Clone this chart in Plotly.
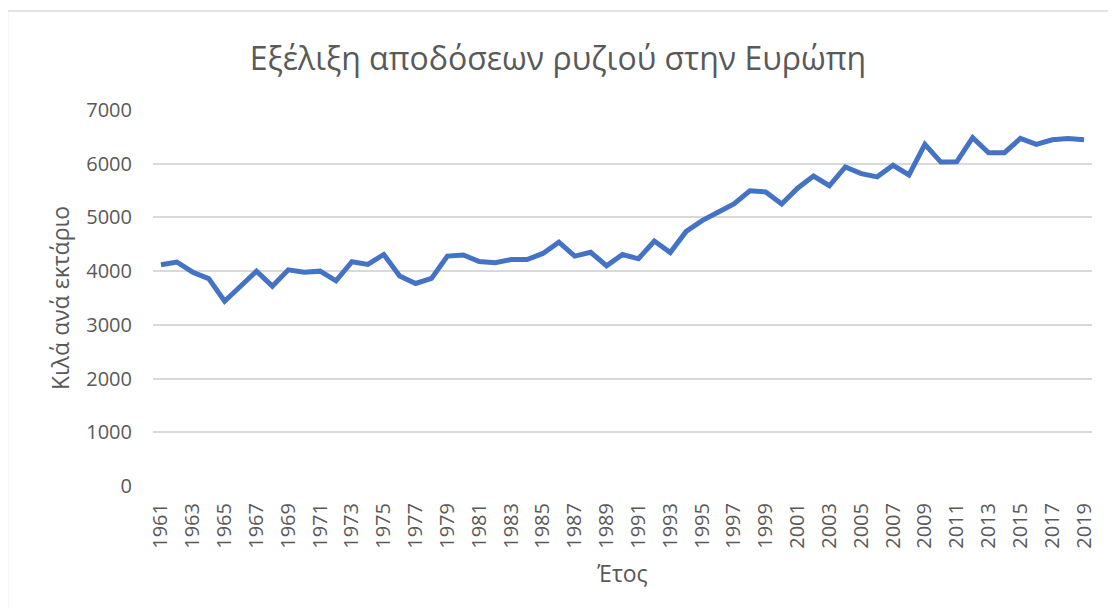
import plotly.graph_objects as go

years = list(range(1961, 2020))
yield_kg_ha = [
    4120, 4170, 3980, 3860, 3440, 3730, 4000, 3720, 4025, 3980,
    4000, 3820, 4175, 4125, 4310, 3910, 3770, 3865, 4280, 4300,
    4180, 4155, 4215, 4215, 4330, 4540, 4280, 4350, 4100, 4310,
    4230, 4560, 4345, 4740, 4940, 5095, 5250, 5495, 5475, 5250,
    5545, 5770, 5590, 5940, 5815, 5755, 5970, 5790, 6360, 6030,
    6035, 6485, 6205, 6205, 6470, 6360, 6445, 6468, 6445,
]
title_text = "Εξέλιξη αποδόσεων ρυζιού στην Ευρώπη"
x_title = "Έτος"
y_title = "Κιλά ανά εκτάριο"
y_ticks = [0, 1000, 2000, 3000, 4000, 5000, 6000, 7000]

x_cat = [str(y) for y in years]
tick_years = x_cat[::2]

grey = "#595959"
font_family = "Open Sans, Liberation Sans, sans-serif"

fig = go.Figure(
    go.Scatter(
        x=x_cat,
        y=yield_kg_ha,
        mode="lines",
        line=dict(color="#4472C4", width=5),
        hoverinfo="x+y",
    )
)

fig.update_layout(
    width=1100,
    height=600,
    margin=dict(l=145, r=16, t=102, b=122),
    paper_bgcolor="white",
    plot_bgcolor="white",
    showlegend=False,
    title=dict(
        text=title_text,
        x=0.5,
        xanchor="center",
        y=0.915,
        yanchor="middle",
        font=dict(family=font_family, size=32, color=grey),
    ),
    font=dict(family=font_family, color=grey),
    xaxis=dict(
        type="category",
        range=[-0.5, len(years) - 0.5],
        tickmode="array",
        tickvals=tick_years,
        ticktext=tick_years,
        tickangle=-90,
        tickfont=dict(size=20, color=grey),
        showgrid=False,
        showline=False,
        zeroline=False,
        ticks="",
        ticklabelstandoff=12,
        title=dict(text=x_title, font=dict(size=23, color=grey), standoff=18),
    ),
    yaxis=dict(
        range=[0, 7000],
        tickvals=y_ticks,
        tickfont=dict(size=20, color=grey),
        showgrid=True,
        gridcolor="#d9d9d9",
        gridwidth=1.5,
        zeroline=False,
        showline=False,
        ticks="",
        ticklabelstandoff=20,
        title=dict(text=y_title, font=dict(size=23, color=grey), standoff=10),
    ),
    shapes=[
        dict(
            type="rect",
            xref="paper",
            yref="paper",
            x0=-0.155,
            x1=1.2,
            y0=-0.5,
            y1=1.263,
            line=dict(color="#d9d9d9", width=1.5),
            fillcolor="rgba(0,0,0,0)",
            layer="below",
        )
    ],
)

fig.write_html("out.html")
